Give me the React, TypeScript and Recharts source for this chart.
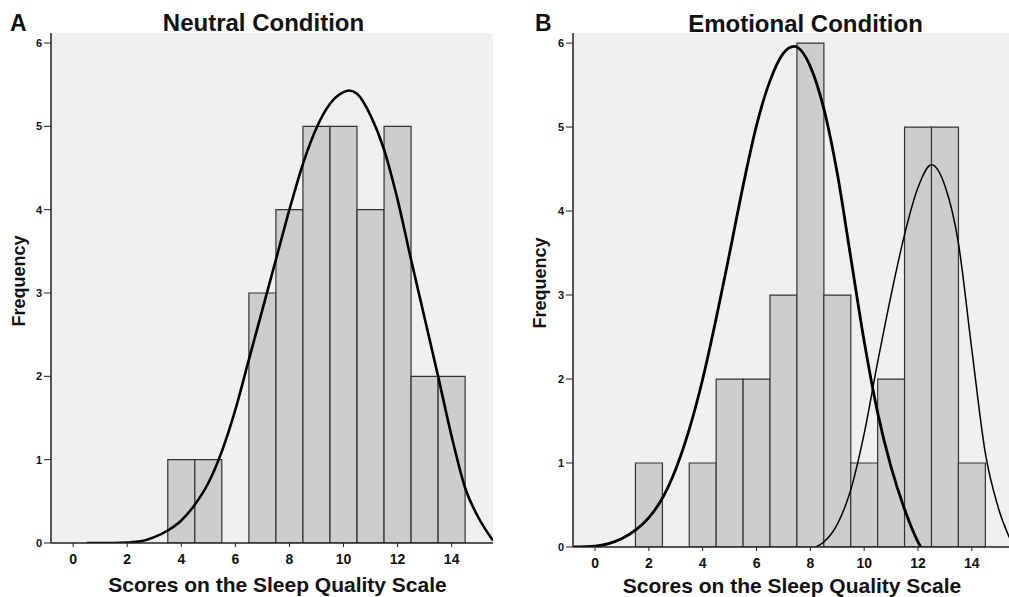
import { Bar, CartesianGrid, ComposedChart, Line, XAxis, YAxis } from 'recharts';

const FONT = '"Liberation Sans", Arial, Helvetica, sans-serif';

const X_DOMAIN: [number, number] = [-0.82, 15.53];
const Y_DOMAIN: [number, number] = [0, 6.12];
const X_TICKS = [0, 2, 4, 6, 8, 10, 12, 14];
const Y_TICKS = [0, 1, 2, 3, 4, 5, 6];

// Panel A: neutral condition
const neutralBins = [4, 5, 6, 7, 8, 9, 10, 11, 12, 13, 14];
const neutralCounts = [1, 1, 0, 3, 4, 5, 5, 4, 5, 2, 2];
const neutralCurveX = [0.5, 1, 1.5, 2, 2.5, 3, 3.5, 4, 4.5, 5, 5.5, 6, 6.5, 7, 7.5, 8, 8.5, 9, 9.5, 10, 10.2, 10.5, 11, 11.5, 12, 12.5, 13, 13.5, 14, 14.5, 15, 15.53];
const neutralCurveY = [0, 0, 0, 0.005, 0.02, 0.07, 0.15, 0.27, 0.46, 0.72, 1.1, 1.6, 2.2, 2.8, 3.4, 4.0, 4.55, 4.98, 5.27, 5.41, 5.43, 5.39, 5.13, 4.72, 4.12, 3.4, 2.7, 2.0, 1.28, 0.66, 0.3, 0.03];

// Panel B: emotional condition
const emotionalBins = [2, 3, 4, 5, 6, 7, 8, 9, 10, 11, 12, 13, 14];
const emotionalCounts = [1, 0, 1, 2, 2, 3, 6, 3, 1, 2, 5, 5, 1];
const emotionalWideX = [-0.8, 0, 0.5, 1, 1.5, 2, 2.5, 3, 3.5, 4, 4.5, 5, 5.5, 6, 6.5, 7, 7.4, 8, 8.5, 9, 9.5, 10, 10.5, 11, 11.5, 12, 12.1];
const emotionalWideY = [0, 0.01, 0.04, 0.1, 0.2, 0.35, 0.58, 0.93, 1.4, 2.0, 2.72, 3.5, 4.3, 5.02, 5.55, 5.88, 5.96, 5.72, 5.22, 4.45, 3.45, 2.45, 1.6, 0.95, 0.45, 0.06, 0];
const emotionalNarrowX = [8.2, 8.5, 9, 9.5, 10, 10.5, 11, 11.5, 12, 12.5, 13, 13.5, 14, 14.5, 15, 15.53];
const emotionalNarrowY = [0, 0.06, 0.27, 0.68, 1.35, 2.2, 3.0, 3.72, 4.28, 4.55, 4.3, 3.62, 2.35, 1.12, 0.45, 0.02];

const toPoints = (xs: number[], ys: number[]) => xs.map((x, i) => ({ x, y: ys[i] }));

interface Curve {
  points: { x: number; y: number }[];
  width: number;
}

interface HistogramProps {
  bins: number[];
  counts: number[];
  curves: Curve[];
  left: number;
  rightMargin: number;
  xAxisHeight: number;
}

const Histogram = ({ bins, counts, curves, left, rightMargin, xAxisHeight }: HistogramProps) => {
  const data = bins.map((bin, i) => ({ bin, count: counts[i] }));
  return (
    <div style={{ position: 'absolute', left, top: 0 }}>
      <ComposedChart
        width={500}
        height={597}
        data={data}
        margin={{ top: 33, right: rightMargin, left: 0, bottom: 0 }}
        barCategoryGap={0}
        barGap={0}
      >
        <CartesianGrid xAxisId="bins" fill="#F0F0F0" horizontal={false} vertical={false} stroke="none" />
        <XAxis
          xAxisId="bins"
          dataKey="bin"
          type="number"
          domain={X_DOMAIN}
          allowDataOverflow
          ticks={X_TICKS}
          interval={0}
          height={xAxisHeight}
          tickSize={4}
          tickMargin={7}
          tick={{ fill: '#111', fontSize: 14, fontWeight: 700, fontFamily: FONT }}
          axisLine={{ stroke: '#222', strokeWidth: 1.5 }}
          tickLine={{ stroke: '#222' }}
        />
        <XAxis xAxisId="curve" dataKey="x" type="number" domain={X_DOMAIN} allowDataOverflow hide />
        <YAxis
          type="number"
          domain={Y_DOMAIN}
          allowDataOverflow
          ticks={Y_TICKS}
          interval={0}
          width={51}
          tickSize={7}
          tickMargin={2}
          tick={{ fill: '#111', fontSize: 11, fontWeight: 700, fontFamily: FONT }}
          axisLine={{ stroke: '#222', strokeWidth: 1.5 }}
          tickLine={{ stroke: '#222' }}
        />
        <Bar xAxisId="bins" dataKey="count" fill="#CDCDCD" stroke="#333" strokeWidth={1.2} isAnimationActive={false} />
        {curves.map((curve, i) => (
          <Line
            key={i}
            xAxisId="curve"
            data={curve.points}
            dataKey="y"
            type="monotone"
            dot={false}
            activeDot={false}
            stroke="#000"
            strokeWidth={curve.width}
            isAnimationActive={false}
          />
        ))}
      </ComposedChart>
    </div>
  );
};

export default function App() {
  const textStyle = { fontFamily: FONT, fill: '#111' };
  return (
    <div
      style={{
        position: 'fixed',
        left: 0,
        top: 0,
        width: 1009,
        height: 597,
        overflow: 'hidden',
        background: '#fff',
      }}
    >
      <Histogram
        bins={neutralBins}
        counts={neutralCounts}
        curves={[{ points: toPoints(neutralCurveX, neutralCurveY), width: 2.6 }]}
        left={0}
        rightMargin={7}
        xAxisHeight={54}
      />
      <Histogram
        bins={emotionalBins}
        counts={emotionalCounts}
        curves={[
          { points: toPoints(emotionalWideX, emotionalWideY), width: 2.8 },
          { points: toPoints(emotionalNarrowX, emotionalNarrowY), width: 1.5 },
        ]}
        left={522}
        rightMargin={9}
        xAxisHeight={50}
      />
      <svg width={1009} height={597} style={{ position: 'absolute', left: 0, top: 0, pointerEvents: 'none' }}>
        <text x={10} y={31} fontSize={23} fontWeight={700} style={textStyle}>A</text>
        <text x={263.5} y={31} fontSize={24} fontWeight={700} textAnchor="middle" style={textStyle}>Neutral Condition</text>
        <text x={535} y={31} fontSize={23} fontWeight={700} style={textStyle}>B</text>
        <text x={805.5} y={31.5} fontSize={24} fontWeight={700} textAnchor="middle" style={textStyle}>Emotional Condition</text>
        <text x={277.5} y={592} fontSize={21} fontWeight={700} textAnchor="middle" style={textStyle}>Scores on the Sleep Quality Scale</text>
        <text x={792} y={592.5} fontSize={21} fontWeight={700} textAnchor="middle" style={textStyle}>Scores on the Sleep Quality Scale</text>
        <text x={25} y={281} fontSize={18} fontWeight={700} textAnchor="middle" transform="rotate(-90 25 281)" style={textStyle}>Frequency</text>
        <text x={546} y={283} fontSize={18} fontWeight={700} textAnchor="middle" transform="rotate(-90 546 283)" style={textStyle}>Frequency</text>
      </svg>
    </div>
  );
}
